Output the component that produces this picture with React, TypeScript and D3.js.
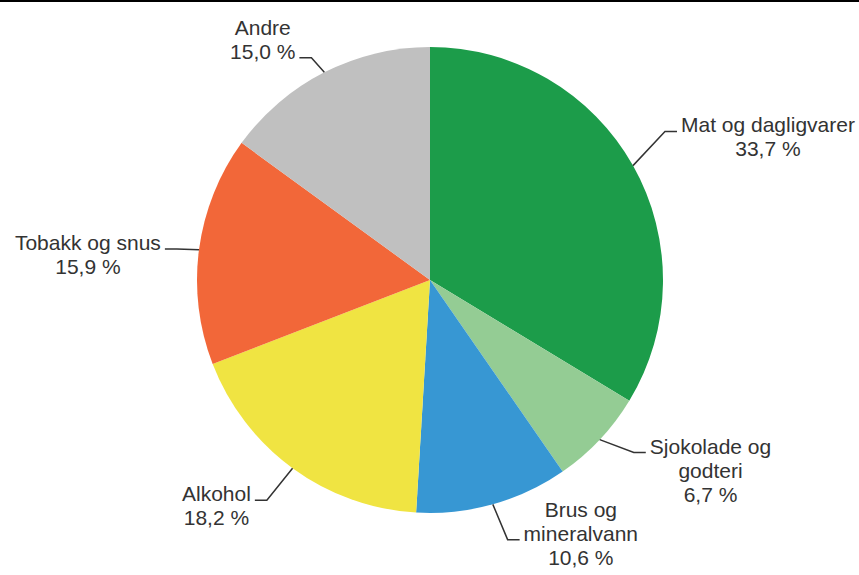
import { useEffect, useRef } from "react";
import * as d3 from "d3";

const categories = [
  "Mat og dagligvarer",
  "Sjokolade og godteri",
  "Brus og mineralvann",
  "Alkohol",
  "Tobakk og snus",
  "Andre",
];
// label text split into lines
const labelLines = [
  ["Mat og dagligvarer"],
  ["Sjokolade og", "godteri"],
  ["Brus og", "mineralvann"],
  ["Alkohol"],
  ["Tobakk og snus"],
  ["Andre"],
];
const shares = [33.7, 6.7, 10.6, 18.2, 15.9, 15.0];
const colors = ["#1c9c4a", "#94cc94", "#3797d3", "#f0e442", "#f26739", "#c0c0c0"];

// label layout: connector length beyond the rim, angle nudge (deg), and which text line sits on the connector
const connectorDist = [45, 34, 38, 41, 22, 19];
const angleNudge = [-2.9, -3, -1, 0.4, -0.5, -1.1];
const lineAtConnector = [0, 0, 1, 0, 0, 1];

const width = 859;
const height = 575;
const fontSize = 21;
const lineHeight = 24;

export default function App() {
  const svgRef = useRef<SVGSVGElement>(null);

  useEffect(() => {
    document.body.style.margin = "0";
    if (!svgRef.current) return;
    const svg = d3.select(svgRef.current);
    svg.selectAll("*").remove();

    const cx = 430;
    const cy = 280;
    const r = 233;

    // top border
    svg
      .append("line")
      .attr("x1", 0)
      .attr("x2", width)
      .attr("y1", 1)
      .attr("y2", 1)
      .attr("stroke", "#000")
      .attr("stroke-width", 2);

    const data = categories.map((c, i) => ({ name: c, value: shares[i], i }));
    const pie = d3
      .pie<{ name: string; value: number; i: number }>()
      .sort(null)
      .value((d) => d.value);
    const arcs = pie(data);
    const arc = d3
      .arc<d3.PieArcDatum<{ name: string; value: number; i: number }>>()
      .innerRadius(0)
      .outerRadius(r);

    const g = svg.append("g").attr("transform", `translate(${cx},${cy})`);
    g.selectAll("path")
      .data(arcs)
      .enter()
      .append("path")
      .attr("d", arc)
      .attr("fill", (d) => colors[d.data.i]);

    const fmt = (v: number) => v.toFixed(1).replace(".", ",") + " %";

    arcs.forEach((a) => {
      const i = a.data.i;
      const mid = (a.startAngle + a.endAngle) / 2;
      const p0 = [Math.sin(mid) * r, -Math.cos(mid) * r];
      const ang = mid + (angleNudge[i] * Math.PI) / 180;
      const d = r + connectorDist[i];
      const p1 = [Math.sin(ang) * d, -Math.cos(ang) * d];
      const right = p1[0] > 0;
      const p2 = [p1[0] + (right ? 12 : -12), p1[1]];

      g.append("path")
        .attr("d", `M${p0[0]},${p0[1]}L${p1[0]},${p1[1]}L${p2[0]},${p2[1]}`)
        .attr("fill", "none")
        .attr("stroke", "#333")
        .attr("stroke-width", 1.5);

      const lines = [...labelLines[i], fmt(shares[i])];
      const lg = g.append("g");
      const texts = lg
        .selectAll("text")
        .data(lines)
        .enter()
        .append("text")
        .attr("x", 0)
        .attr("y", (_, k) => (k - lineAtConnector[i]) * lineHeight)
        .attr("text-anchor", "middle")
        .attr("font-family", "'Liberation Sans', Arial, sans-serif")
        .attr("font-size", fontSize)
        .attr("fill", "#333")
        .text((t) => t);
      let w = 0;
      texts.each(function () {
        w = Math.max(w, (this as SVGTextElement).getComputedTextLength());
      });
      const tx = right ? p2[0] + 4 + w / 2 : p2[0] - 4 - w / 2;
      lg.attr("transform", `translate(${tx},${p2[1] + 1})`);
    });
  }, []);

  return <svg ref={svgRef} width={width} height={height} style={{ display: "block" }} />;
}
